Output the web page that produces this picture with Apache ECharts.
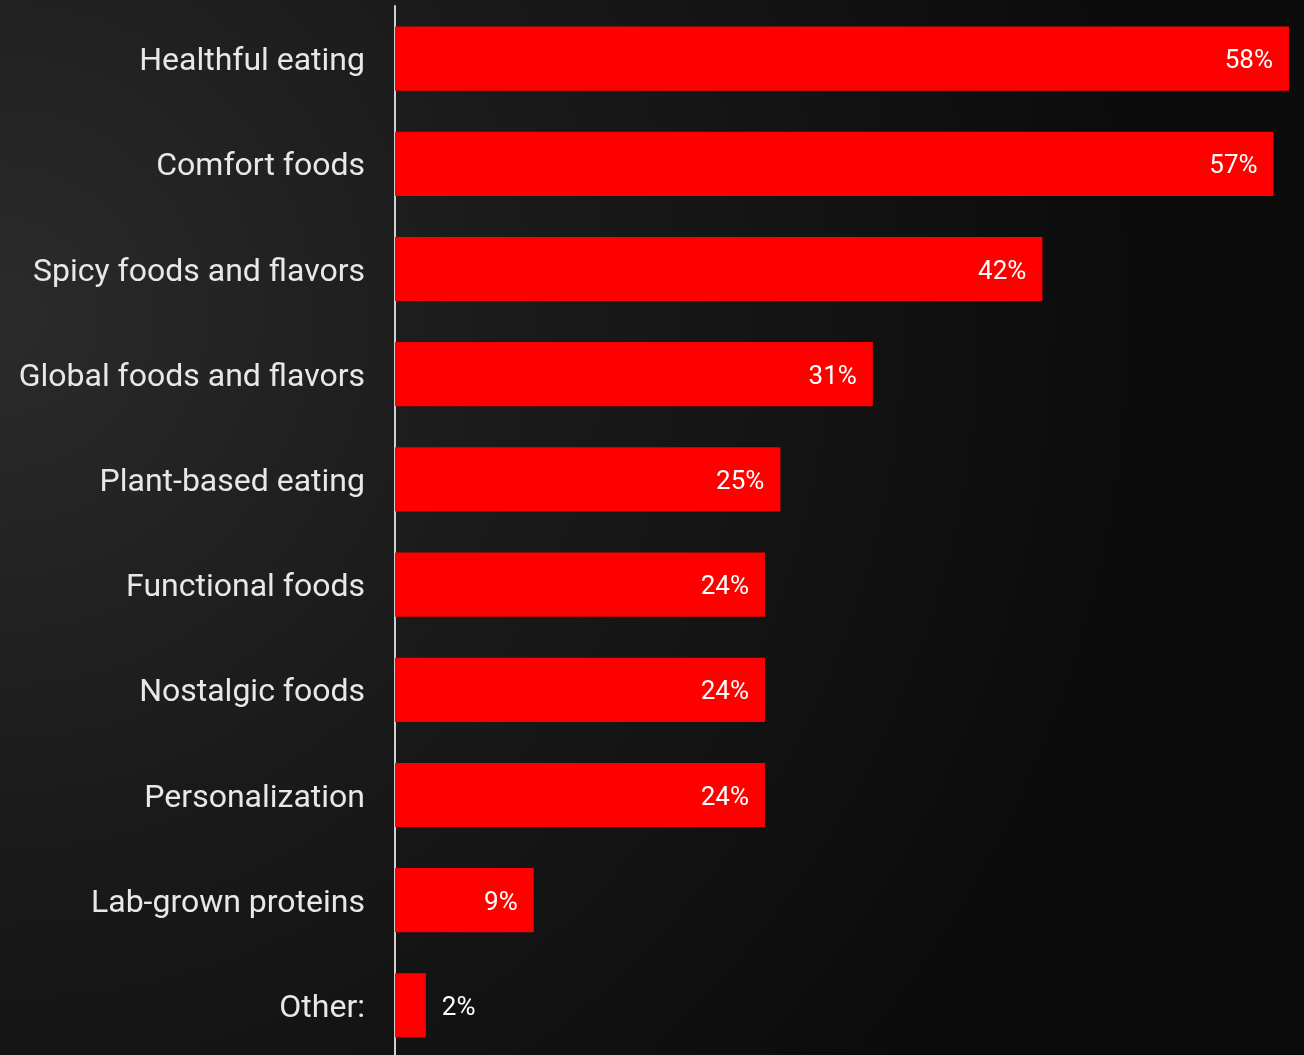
<!DOCTYPE html>
<html>
<head>
<meta charset="utf-8">
<script src="https://cdn.jsdelivr.net/npm/echarts@6/dist/echarts.min.js"></script>
<style>
  html, body { margin: 0; padding: 0; background: #141414; }
  #chart { width: 1304px; height: 1055px; }
</style>
</head>
<body>
<div id="chart"></div>
<script>
// Food trend categories, top to bottom
const categories = [
  'Healthful eating',
  'Comfort foods',
  'Spicy foods and flavors',
  'Global foods and flavors',
  'Plant-based eating',
  'Functional foods',
  'Nostalgic foods',
  'Personalization',
  'Lab-grown proteins',
  'Other:'
];
// Share of respondents, percent
const values = [58, 57, 42, 31, 25, 24, 24, 24, 9, 2];

const chart = echarts.init(document.getElementById('chart'), null, { renderer: 'canvas' });

// Small bars get their label outside the bar end
const seriesData = values.map(function (v) {
  const item = { value: v };
  if (v < 5) {
    item.label = { position: 'right', distance: 16 };
  }
  return item;
});

chart.setOption({
  backgroundColor: {
    type: 'radial',
    x: 0.0, y: 0.3, r: 1.1,
    colorStops: [
      { offset: 0, color: '#2b2b2b' },
      { offset: 0.45, color: '#1a1a1a' },
      { offset: 1, color: '#0b0b0b' }
    ]
  },
  grid: {
    left: 395, right: 15, top: 6, height: 1052,
    containLabel: false,
    outerBoundsMode: 'none'
  },
  xAxis: {
    type: 'value',
    min: 0,
    max: 58,
    show: false
  },
  yAxis: {
    type: 'category',
    data: categories,
    inverse: true,
    axisLine: { show: true, lineStyle: { color: '#d0d0d0', width: 2 } },
    axisTick: { show: false },
    axisLabel: {
      margin: 30,
      formatter: function (v) { return '{t|' + v + '}'; },
      rich: {
        t: {
          color: '#e8e8e8',
          fontFamily: 'Roboto',
          fontSize: 32,
          padding: [7, 0, 0, 0]
        }
      }
    }
  },
  series: [{
    type: 'bar',
    data: seriesData,
    barWidth: '61%',
    itemStyle: { color: '#ff0000' },
    label: {
      show: true,
      position: 'insideRight',
      distance: 16,
      formatter: '{v|{c}%}',
      rich: {
        v: {
          color: '#ffffff',
          fontFamily: 'Roboto',
          fontSize: 26,
          padding: [6, 0, 0, 0]
        }
      }
    },
    animation: false
  }]
});
</script>
</body>
</html>
